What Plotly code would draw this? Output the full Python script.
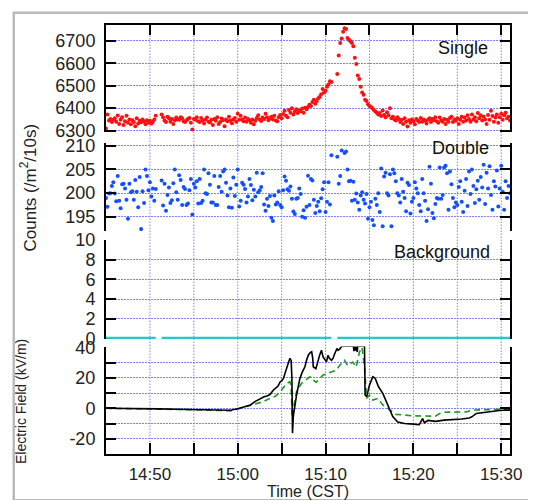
import plotly.graph_objects as go
import pandas as pd

DAY = "2000-01-01 "
FONT = "Liberation Sans, Arial, sans-serif"

# 10-s bins, 14:45:00 .. 15:31:00 (rows = one minute)
single = [
    6310, 6372, 6345, 6352, 6338, 6349,   # 14:45
    6355, 6340, 6367, 6330, 6348, 6360,
    6325, 6342, 6366, 6335, 6350, 6328,
    6346, 6338, 6320, 6355, 6332, 6344,
    6337, 6350, 6341, 6329, 6346, 6335,
    6344, 6332, 6338, 6350, 6366, None,   # 14:50
    None, None, 6372, 6360, 6345, 6338,
    6362, 6355, 6340, 6352, 6330, 6346,
    6358, 6350, 6348, 6360, 6355, 6342,
    6338, 6346, 6352, 6356, 6335, 6305,
    6352, 6348, 6360, 6342, 6338, 6356,   # 14:55
    6345, 6332, 6350, 6358, 6340, 6336,
    6348, 6325, 6352, 6344, 6360, 6330,
    6338, 6354, 6346, 6320, 6350, 6342,
    6362, 6345, 6333, 6350, 6356, 6340,
    6375, 6348, 6366, 6350, 6342, 6358,   # 15:00
    6340, 6352, 6346, 6335, 6350, 6329,
    6344, 6356, 6368, 6350, 6343, 6358,
    6352, 6375, 6360, 6346, 6355, 6362,
    6350, 6366, 6345, 6342, 6360, 6370,
    6355, 6374, 6388, 6366, 6360, 6392,   # 15:05
    6380, 6400, 6372, 6385, 6395, 6378,
    6390, 6386, 6398, 6380, 6402, 6395,
    6405, 6415, 6410, 6428, 6437, 6420,
    6432, 6444, 6450, 6462, 6485, 6470,
    6478, 6495, 6505, 6520, 6516, None,   # 15:10
    None, None, 6552, 6634, 6690, 6710,
    6740, 6756, 6752, 6712, 6704, 6698,
    6690, 6676, 6624, 6596, 6545, 6530,
    6495, 6470, 6460, 6437, 6432, 6418,
    6410, 6405, 6400, 6392, 6385, 6380,   # 15:15
    6372, 6378, 6365, 6390, 6370, 6360,
    6382, 6368, 6400, 6355, 6362, 6350,
    6345, 6360, 6352, 6338, 6348, 6330,
    6355, 6340, 6318, 6346, 6335, 6350,
    6342, 6328, 6352, 6345, 6338, 6356,   # 15:20
    6340, 6350, 6344, 6332, 6348, 6355,
    6338, 6352, 6346, 6360, 6342, 6335,
    6358, 6345, 6340, 6352, 6330, 6348,
    6340, 6356, 6362, 6338, 6350, 6344,
    6355, 6330, 6348, 6362, 6340, 6358,   # 15:25
    6345, 6368, 6352, 6340, 6372, 6350,
    6360, 6342, 6378, 6355, 6368, 6345,
    6362, 6350, 6330, 6370, 6348, 6388,
    6365, 6340, 6358, 6372, 6335, 6360,
    6375, 6348, 6368, 6380, 6355, 6362,   # 15:30
    6345,
]

double = [
    199.0, 197.1, 199.9, 200.0, 201.5, 202.3,   # 14:45
    199.9, 198.3, 203.6, 198.4, 196.8, 201.9,
    202.0, 201.0, 198.6, 194.6, 202.0, 200.2,
    200.4, 198.6, 202.8, 200.3, 197.0, 203.4,
    192.4, 200.4, 197.9, 205.0, 203.6, 200.6,
    202.3, 199.3, 201.0, 198.4, 200.9, None,    # 14:50
    None, None, 202.7, 197.4, 202.0, 196.3,
    199.6, 201.2, 197.9, 198.5, 202.1, 205.0,
    200.2, 198.6, 203.8, 202.8, 197.5, 201.3,
    200.9, 197.5, 197.8, 200.6, 203.0, 195.5,
    202.0, 201.2, 202.5, 197.8, 203.0, 197.9,   # 14:55
    198.4, 205.0, 200.0, 199.8, 204.2, 201.8,
    198.0, 198.0, 203.6, 197.5, 197.5, 201.3,
    203.6, 200.3, 204.6, 205.0, 202.2, 199.5,
    197.0, 201.0, 196.9, 203.3, 199.4, 201.8,
    205.0, 197.2, 198.4, 202.2, 201.8, 200.9,   # 15:00
    198.0, 199.3, 203.0, 201.7, 198.5, 200.7,
    199.3, 204.3, 200.2, 200.6, 201.3, 204.2,
    197.6, 196.3, 198.8, 197.3, 199.4, 194.8,
    194.1, 199.5, 197.6, 198.0, 200.4, 197.5,
    197.0, 200.6, 203.5, 202.6, 200.8, 200.5,   # 15:05
    201.4, 198.8, 196.1, 195.6, 198.8, 199.0,
    201.0, 199.8, 195.0, 196.4, 194.8, 197.1,
    203.7, 197.5, 203.0, 202.7, 198.6, 195.8,
    197.3, 198.2, 196.2, 198.9, 200.8, 202.3,
    196.0, 198.2, 202.3, 197.6, 208.0, None,    # 15:10
    None, None, 207.7, 202.0, 203.6, 209.0,
    211.0, 208.5, 208.8, 205.0, 202.5, 202.6,
    198.4, 202.4, 198.6, 199.9, 198.0, 196.5,
    199.5, 200.2, 198.6, 197.8, 199.8, 194.6,
    197.0, 198.2, 194.3, 193.2, 198.8, 197.5,   # 15:15
    200.0, 196.0, 205.2, 193.0, 203.5, 204.3,
    200.0, 199.5, 204.0, 193.0, 205.0, 204.2,
    202.5, 200.0, 199.5, 198.0, 203.0, 200.3,
    199.0, 196.2, 202.2, 201.7, 195.7, 198.2,
    199.0, 202.3, 201.0, 200.0, 197.5, 196.2,   # 15:20
    203.0, 200.0, 198.4, 194.1, 196.6, 205.6,
    202.0, 195.8, 194.7, 197.7, 199.0, 198.8,
    205.4, 198.8, 199.6, 205.4, 205.8, 204.2,
    196.5, 204.6, 201.9, 199.0, 197.0, 198.0,
    197.5, 201.3, 202.5, 198.2, 196.0, 200.5,   # 15:25
    203.0, 197.3, 204.6, 199.8, 205.0, 201.5,
    197.9, 200.8, 202.6, 198.6, 203.4, 201.2,
    206.0, 197.7, 204.3, 201.0, 205.7, 199.6,
    196.5, 202.5, 201.4, 204.8, 197.2, 201.0,
    205.8, 200.3, 196.5, 202.5, 199.0, 201.5,   # 15:30
    200.0,
]

missing = {"14:50:50", "14:51:00", "14:51:10", "15:10:50", "15:11:00", "15:11:10"}
bin_times = pd.date_range(DAY + "14:45:00", DAY + "15:31:00", freq="10s")
background = [None if t.strftime("%H:%M:%S") in missing else 0 for t in bin_times]

ef_black_t = ["14:45:00", "14:47:00", "14:49:00", "14:51:00", "14:53:00", "14:55:00", "14:57:00",
              "14:58:30", "14:59:10", "15:00:00", "15:00:40", "15:01:26", "15:02:00", "15:02:34",
              "15:03:00", "15:03:20", "15:03:40", "15:04:04", "15:04:20", "15:04:35", "15:04:50",
              "15:05:00", "15:05:12", "15:05:25", "15:05:35", "15:05:50", "15:05:57", "15:06:05",
              "15:06:10", "15:06:14", "15:06:20", "15:06:30", "15:06:42", "15:06:55", "15:07:05",
              "15:07:20", "15:07:39", "15:07:50", "15:08:02", "15:08:15", "15:08:25", "15:08:32",
              "15:08:36", "15:08:54", "15:09:02", "15:09:10", "15:09:20", "15:09:32", "15:09:38",
              "15:09:43", "15:09:55", "15:10:06", "15:10:17", "15:10:25", "15:10:40", "15:10:50",
              "15:11:03", "15:11:18", "15:11:25", "15:11:36", "15:11:50", "15:12:00", "15:13:10",
              "15:13:14", "15:13:18", "15:13:26", "15:13:30", "15:13:36", "15:13:40", "15:14:26",
              "15:14:30", "15:14:41", "15:15:00", "15:15:23", "15:15:39", "15:16:02", "15:16:31",
              "15:17:05", "15:17:39", "15:18:13", "15:19:00", "15:20:00", "15:20:40", "15:21:03",
              "15:21:15", "15:21:40", "15:22:30", "15:23:30", "15:24:30", "15:25:30", "15:26:20",
              "15:26:40", "15:27:10", "15:28:00", "15:29:00", "15:30:00", "15:31:00"]
ef_black_v = [0.0, 0.0, -0.2, -0.4, -0.7, -1.0, -1.4,
              -1.6, -1.3, -0.3, 0.8, 2.2, 4.5, 6.5,
              7.5, 8.0, 9.0, 12.0, 13.5, 14.5, 17.4,
              18.0, 19.6, 24.0, 27.2, 31.0, 32.7, 31.4,
              20.0, -16.3, -5.0, 2.0, 8.7, 15.0, 19.6,
              23.5, 27.2, 31.5, 34.8, 36.5, 37.0, 33.0,
              27.2, 26.0, 29.0, 31.4, 35.0, 38.0, 36.0,
              33.7, 32.0, 30.4, 34.8, 33.0, 31.4, 32.5,
              35.9, 39.2, 38.0, 38.8, 40.5, 40.7, 40.7,
              37.5, 40.7, 37.8, 40.7, 37.0, 40.7, 40.7,
              8.7, 7.6, 15.2, 20.7, 19.6, 14.1, 9.8,
              2.2, -5.4, -9.1, -10.0, -10.4, -10.8, -6.8,
              -9.5, -8.0, -8.6, -7.8, -7.6, -7.0, -6.4,
              -5.6, -3.4, -2.8, -2.0, -1.3, -1.2]

ef_green_t = ["14:45:00", "14:50:00", "14:55:00", "14:58:30", "14:59:10", "15:00:00", "15:01:26",
              "15:02:54", "15:03:40", "15:04:20", "15:04:50", "15:05:35", "15:05:57", "15:06:05",
              "15:06:12", "15:06:20", "15:06:42", "15:07:16", "15:08:13", "15:08:40", "15:08:55",
              "15:09:43", "15:10:30", "15:11:13", "15:11:40", "15:12:09", "15:12:32", "15:13:06",
              "15:13:29", "15:13:51", "15:14:09", "15:14:26", "15:14:41", "15:15:00", "15:15:23",
              "15:15:57", "15:16:31", "15:17:16", "15:18:01", "15:20:00", "15:22:30", "15:23:00",
              "15:23:30", "15:26:00", "15:26:40", "15:31:00"]
ef_green_v = [0.0, -0.3, -1.0, -1.5, -1.7, -0.5, 1.7,
              4.3, 6.5, 8.0, 10.9, 16.3, 17.4, 14.0,
              -6.0, 0.0, 11.0, 16.3, 20.7, 18.0, 17.0,
              21.8, 23.5, 25.0, 28.5, 31.4, 28.0, 30.3,
              27.0, 36.8, 39.9, 27.0, 6.5, 8.7, 5.4,
              6.5, 2.2, -1.1, -4.0, -5.0, -5.2, -3.5,
              -2.6, -2.4, -1.2, -0.6]

x_ticks_5min = ["14:50", "14:55", "15:00", "15:05", "15:10", "15:15", "15:20", "15:25", "15:30"]
ef_tickvals = [-20, 0, 20, 40]
ef_ticktext = ["-20", "0", "20", "40"]

GRID = "#8080ff"
GDASH = "1.5px,1.5px"
FRAME = "#bababa"

fig = go.Figure()
fig.add_trace(go.Scatter(x=bin_times, y=single, mode="markers", xaxis="x", yaxis="y",
                         marker=dict(color="#ff1010", size=4), showlegend=False))
fig.add_trace(go.Scatter(x=bin_times, y=double, mode="markers", xaxis="x", yaxis="y2",
                         marker=dict(color="#1450ff", size=4), showlegend=False))
fig.add_trace(go.Scatter(x=bin_times, y=background, mode="lines", xaxis="x", yaxis="y3",
                         line=dict(color="#1ecccc", width=3.5), connectgaps=False, showlegend=False))
fig.add_trace(go.Scatter(x=[DAY + t for t in ef_green_t], y=ef_green_v, mode="lines", xaxis="x", yaxis="y4",
                         line=dict(color="#1a9a1a", width=1.6, dash="6px,4px"), showlegend=False))
fig.add_trace(go.Scatter(x=[DAY + t for t in ef_black_t], y=ef_black_v, mode="lines", xaxis="x", yaxis="y4",
                         line=dict(color="black", width=1.6), showlegend=False))
fig.add_trace(go.Scatter(x=[None], y=[None], xaxis="x2", yaxis="y", showlegend=False, hoverinfo="skip"))

# The page body adds an 8px offset; positions below are screenshot pixels.
OFF = 8
FW, FH = 536 - OFF, 500 - OFF

def fx(xp):
    return (xp - OFF) / FW

def fy(yp):
    return 1 - (yp - OFF) / FH

def dom(ytop, ybot):
    return [fy(ybot), fy(ytop)]

XDOM = [fx(106), fx(510)]

def yax(domain, rng, dtick, tick0, minor=None, **kw):
    d = dict(domain=domain, range=rng, dtick=dtick, tick0=tick0, anchor="x", automargin=False,
             showline=True, linecolor="black", linewidth=2, mirror="ticks",
             ticks="inside", ticklen=10, tickwidth=1.5, tickcolor="black", ticklabelstandoff=5,
             showgrid=True, gridcolor=GRID, griddash=GDASH, gridwidth=1, zeroline=False,
             tickfont=dict(size=18, color="#222", family=FONT))
    if minor:
        d["minor"] = minor
    d.update(kw)
    return d

xr = [DAY + "14:45:00", DAY + "15:31:00"]
fig.update_layout(
    width=FW, height=FH,
    margin=dict(l=0, r=0, t=0, b=0, autoexpand=False),
    paper_bgcolor="white", plot_bgcolor="rgba(0,0,0,0)",
    font=dict(family=FONT, color="#222"),
    xaxis=dict(type="date", range=xr, domain=XDOM, anchor="y4", tickformat="%H:%M", automargin=False,
               tick0=DAY + "14:50:00", dtick=600000,
               ticks="inside", ticklen=11, tickwidth=1.5, tickcolor="black", ticklabelstandoff=4,
               minor=dict(dtick=300000, tick0=DAY + "14:50:00", ticks="inside", ticklen=11,
                          tickwidth=1.5, tickcolor="black", showgrid=False),
               showline=True, linecolor="black", linewidth=2, showgrid=False, zeroline=False,
               tickfont=dict(size=17, color="#222", family=FONT),
               title=dict(text="Time (CST)", font=dict(size=16, color="#222", family=FONT), standoff=4)),
    xaxis2=dict(type="date", range=xr, domain=XDOM, anchor="y", overlaying="x", side="top", automargin=False,
                tick0=DAY + "14:50:00", dtick=300000, showticklabels=False,
                ticks="inside", ticklen=10, tickwidth=1.5, tickcolor="black",
                showline=True, linecolor="black", linewidth=2, showgrid=False, zeroline=False),
    yaxis=yax(dom(25, 132), [6294, 6770], 100, 6300),
    yaxis2=yax(dom(143, 231), [192.0, 210.6], 5, 195),
    yaxis3=yax(dom(240, 339), [-0.05, 10.0], 2, 0),
    yaxis4=yax(dom(346.5, 454), [-30, 40.5], None, None,
               tickmode="array", tickvals=ef_tickvals, ticktext=ef_ticktext,
               minor=dict(dtick=10, tick0=0, ticks="inside", ticklen=10, tickwidth=1.5,
                          tickcolor="black", showgrid=True, gridcolor=GRID, griddash=GDASH, gridwidth=1)),
)

shapes = []
for hm in x_ticks_5min:
    shapes.append(dict(type="line", xref="x", yref="paper", x0=DAY + hm + ":00", x1=DAY + hm + ":00",
                       y0=fy(454), y1=fy(25), line=dict(color=GRID, width=1, dash=GDASH), layer="below"))
# light grey frame (only its left and top edges are in view)
shapes.append(dict(type="rect", xref="paper", yref="paper", x0=fx(13.5), x1=1, y0=0, y1=fy(12.5),
                   line=dict(color=FRAME, width=2), fillcolor="rgba(0,0,0,0)", layer="below"))
fig.update_layout(shapes=shapes)

ann = [
    dict(text="Single", x=fx(490), y=fy(48.5)),
    dict(text="Double", x=fx(491), y=fy(148)),
    dict(text="Background", x=fx(492), y=fy(252)),
]
annotations = [dict(xref="paper", yref="paper", xanchor="right", yanchor="middle", showarrow=False,
                    font=dict(size=18, color="#111", family=FONT), **a) for a in ann]
annotations.append(dict(text="Counts (/m<sup>2</sup>/10s)", xref="paper", yref="paper", x=fx(28.5), y=fy(188),
                        textangle=-90, showarrow=False, xanchor="center", yanchor="middle",
                        font=dict(size=17, color="#222", family=FONT)))
annotations.append(dict(text="Electric Field (kV/m)", xref="paper", yref="paper", x=fx(20.5), y=fy(401.5),
                        textangle=-90, showarrow=False, xanchor="center", yanchor="middle",
                        font=dict(size=14, color="#222", family=FONT)))
# frame box drawn as a bordered, empty annotation as well (coincides with the shape)
annotations.append(dict(text=" ", xref="paper", yref="paper", x=fx(12.5), y=fy(11.5),
                        xanchor="left", yanchor="top", showarrow=False, width=560, height=520,
                        bordercolor=FRAME, borderwidth=2, borderpad=0, font=dict(size=2)))
fig.update_layout(annotations=annotations)

fig.write_html("out.html")
